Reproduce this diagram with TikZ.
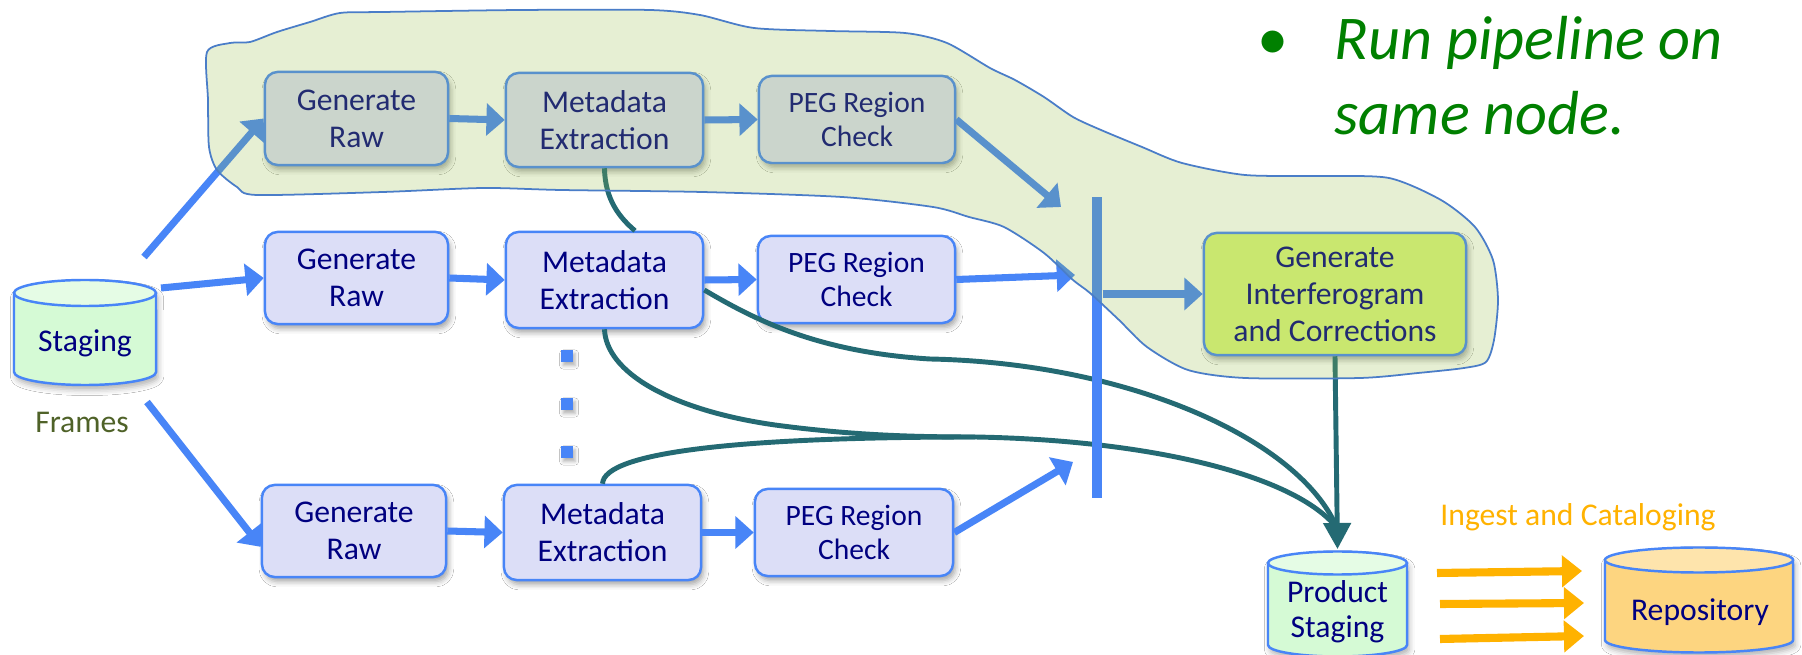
\documentclass[tikz,border=0pt]{standalone}
\usepackage{fontspec}
\setmainfont{Carlito}
\usetikzlibrary{arrows.meta,shadows.blur,calc}

\definecolor{boxblue}{RGB}{72,133,247}
\definecolor{lav}{RGB}{220,222,247}
\definecolor{navy}{RGB}{0,0,128}
\definecolor{feedteal}{RGB}{36,106,115}
\definecolor{gold}{RGB}{255,178,0}
\definecolor{giFill}{RGB}{217,245,125}
\definecolor{blobFill}{RGB}{148,187,65}
\definecolor{blobLine}{RGB}{74,125,200}
\definecolor{framesCol}{RGB}{79,98,40}
\definecolor{pipeGreen}{RGB}{0,128,0}
\definecolor{stgBody}{RGB}{213,250,213}
\definecolor{stgTop}{RGB}{229,252,229}
\definecolor{repoBody}{RGB}{253,213,128}
\definecolor{repoTop}{RGB}{254,228,172}

% cylinder: centre x, top y, bottom y, x radius, y radius, body colour, lid colour
\newcommand\drum[7]{%
  \path[fill=#6, blur shadow={shadow xshift=0.6pt, shadow yshift=-1.4pt, shadow blur radius=1.6pt, shadow opacity=30}]
    (#1-#4*100,#2) -- (#1-#4*100,#3) arc[start angle=180, end angle=360, x radius=#4cm, y radius=#5cm]
    -- (#1+#4*100,#2) arc[start angle=0, end angle=180, x radius=#4cm, y radius=#5cm] -- cycle;
  \draw[boxblue, line width=0.7pt]
    (#1-#4*100,#2) -- (#1-#4*100,#3) arc[start angle=180, end angle=360, x radius=#4cm, y radius=#5cm]
    -- (#1+#4*100,#2);
  \filldraw[fill=#7, draw=boxblue, line width=0.7pt] (#1,#2) ellipse[x radius=#4cm, y radius=#5cm];
}

\tikzset{
  stage/.style={draw=boxblue, fill=lav, line width=0.7pt, rounded corners=3.6pt,
    text=navy, align=center, inner sep=0pt, font=\fontsize{9}{10.5}\selectfont,
    blur shadow={shadow xshift=0.7pt, shadow yshift=-1.3pt, shadow blur radius=1.5pt, shadow opacity=35}},
  pegbox/.style={stage, font=\fontsize{8.4}{9.7}\selectfont},
  flow/.style={draw=boxblue, line width=2pt, -{Triangle[length=5.2pt,width=9pt]}},
  feed/.style={draw=feedteal, line width=1.4pt},
  ingest/.style={draw=gold, line width=2.3pt, -{Triangle[length=5.7pt,width=8.8pt]}},
  dbtext/.style={text=navy, font=\fontsize{9}{10}\selectfont, align=center, inner sep=0pt},
  dotmark/.style={fill=boxblue, inner sep=0pt, minimum size=0.12cm,
    blur shadow={shadow xshift=0.6pt, shadow yshift=-1pt, shadow blur radius=1pt, shadow opacity=30}},
}

\begin{document}
\begin{tikzpicture}[x=0.01cm, y=-0.01cm]
\useasboundingbox (0,0) rectangle (1802,655);
\fill[white] (0,0) rectangle (1802,655);

% ---- databases ----
\drum{85}{293}{372}{0.71}{0.13}{stgBody}{stgTop}
\node[dbtext] (stg) at (85,343) {Staging};
\node[text=framesCol, font=\fontsize{9}{10}\selectfont, inner sep=0pt] (frames) at (82,422) {Frames};

\drum{1337.5}{563}{645}{0.695}{0.115}{stgBody}{stgTop}
\node[dbtext] (ps) at (1337.5,612) {Product\\Staging};

\drum{1699}{560}{640}{0.94}{0.125}{repoBody}{repoTop}
\node[dbtext] (repo) at (1700,612) {Repository};

% ---- pipeline stages ----
\node[stage, minimum width=1.83cm, minimum height=0.93cm] (tGR) at (356.5,118.5) {Generate\\Raw};
\node[stage, minimum width=1.97cm, minimum height=0.94cm] (tME) at (604.5,120) {Metadata\\Extraction};
\node[pegbox, minimum width=1.96cm, minimum height=0.87cm] (tPEG) at (857,119.5) {PEG Region\\Check};

\node[stage, minimum width=1.83cm, minimum height=0.92cm] (mGR) at (356.5,278) {Generate\\Raw};
\node[stage, minimum width=1.97cm, minimum height=0.96cm] (mME) at (604.5,280) {Metadata\\Extraction};
\node[pegbox, minimum width=1.97cm, minimum height=0.87cm] (mPEG) at (856.5,279.5) {PEG Region\\Check};

\node[stage, minimum width=1.84cm, minimum height=0.92cm] (bGR) at (354,531) {Generate\\Raw};
\node[stage, minimum width=1.97cm, minimum height=0.95cm] (bME) at (602.5,532.5) {Metadata\\Extraction};
\node[pegbox, minimum width=1.98cm, minimum height=0.87cm] (bPEG) at (854,532.5) {PEG Region\\Check};

\node[stage, fill=giFill, minimum width=2.62cm, minimum height=1.22cm] (gi) at (1335,294) {Generate\\Interferogram\\and Corrections};

% ---- teal product lines ----
\coordinate (psTop) at (1337.5,549);
\coordinate (psIn) at (1337,528);
\coordinate (mrg) at (975,437);

% top-row metadata: runs behind the middle metadata box, then on to product staging
\draw[feed] (tME.south) .. controls (605,200) and (620,218) .. ([xshift=0.305cm]mME.north);
\draw[feed] ([yshift=-0.1cm]mME.east) .. controls (752,318) and (815,352) .. (930,359)
  .. controls (1130,363) and (1300,440) .. (psIn);
\draw[feed] (mME.south) .. controls (606,372) and (670,410) .. (775,425)
  .. controls (850,435) and (910,437) .. (mrg)
  .. controls (1150,440) and (1295,475) .. (psIn);
\draw[feed] (bME.north) .. controls (604,452) and (740,437) .. (mrg);
\draw[feed, -{Triangle[length=7.4pt,width=7.7pt]}] (gi.south) -- (psTop);

% the three ellipsis dots
\node[dotmark] (dotA) at (567,356) {};
\node[dotmark] (dotB) at (567,404) {};
\node[dotmark] (dotC) at (567,452) {};

% collector bar
\node[fill=boxblue, inner sep=0pt, minimum width=0.1cm, minimum height=3.01cm] (bar) at (1097,347.5) {};

% ---- blue flow arrows ----
\coordinate (s1) at (144,257);
\coordinate (s2) at (161,288);
\coordinate (s3) at (147,402);
\coordinate (inTop) at (1061,207);
\coordinate (inMid) at (1075,275);
\coordinate (inBot) at (1073,462);

\draw[flow] (s1) -- (tGR.west);
\draw[flow] (s2) -- (mGR.west);
\draw[flow] (s3) -- ([yshift=-4.5pt]bGR.west);
\draw[flow] (tGR.east) -- (tME.west);
\draw[flow] (tME.east) -- (tPEG.west);
\draw[flow] (tPEG.east) -- (inTop);
\draw[flow] (mGR.east) -- (mME.west);
\draw[flow] (mME.east) -- (mPEG.west);
\draw[flow] (mPEG.east) -- (inMid);
\draw[flow] (bGR.east) -- (bME.west);
\draw[flow] (bME.east) -- (bPEG.west);
\draw[flow] (bPEG.east) -- (inBot);
\draw[flow] (bar.east |- gi.west) -- (gi.west);

% ---- ingest arrows ----
\coordinate (g1a) at (1437,573); \coordinate (g1b) at (1582,571);
\coordinate (g2a) at (1440,604); \coordinate (g2b) at (1584,603);
\coordinate (g3a) at (1440,639); \coordinate (g3b) at (1584,636);
\draw[ingest] (g1a) -- (g1b);
\draw[ingest] (g2a) -- (g2b);
\draw[ingest] (g3a) -- (g3b);
\node[text=gold, font=\fontsize{9}{10}\selectfont, inner sep=0pt] (ingestLbl) at (1578,517) {Ingest and Cataloging};

% ---- shared-node region ----
\draw[draw=blobLine, line width=0.5pt, fill=blobFill, fill opacity=0.23]
  plot[smooth cycle, tension=0.45] coordinates {
  (207,52) (230,43) (250,42) (277,32) (310,22) (340,13) (383,12) (520,10) (650,10)
  (700,15) (754,28) (830,31) (905,33) (947,43) (990,68) (1015,80) (1044,97)
  (1073,117) (1101,130) (1142,147) (1182,163) (1245,175) (1320,176) (1389,178)
  (1441,200) (1475,227) (1493,260) (1498,300) (1494,340) (1486,362) (1464,368)
  (1418,373) (1360,378) (1245,378) (1188,370) (1147,347) (1119,320) (1090,293)
  (1073,280) (1044,253) (1004,227) (969,217) (933,207) (842,197) (702,192)
  (561,190) (483,188) (383,192) (257,195) (237,187) (217,170) (209,147) (208,100)};

% ---- note ----
\node[text=pipeGreen, font=\fontsize{17.7}{21}\selectfont, anchor=base, inner sep=0pt] (bul) at (1273,60) {•};
\node[text=pipeGreen, font=\fontsize{17.7}{21}\itshape, anchor=base west, inner sep=0pt] (noteA) at (1334,60) {Run pipeline on};
\node[text=pipeGreen, font=\fontsize{17.7}{21}\itshape, anchor=base west, inner sep=0pt] (noteB) at (1334,135) {same node.};
\end{tikzpicture}
\end{document}
